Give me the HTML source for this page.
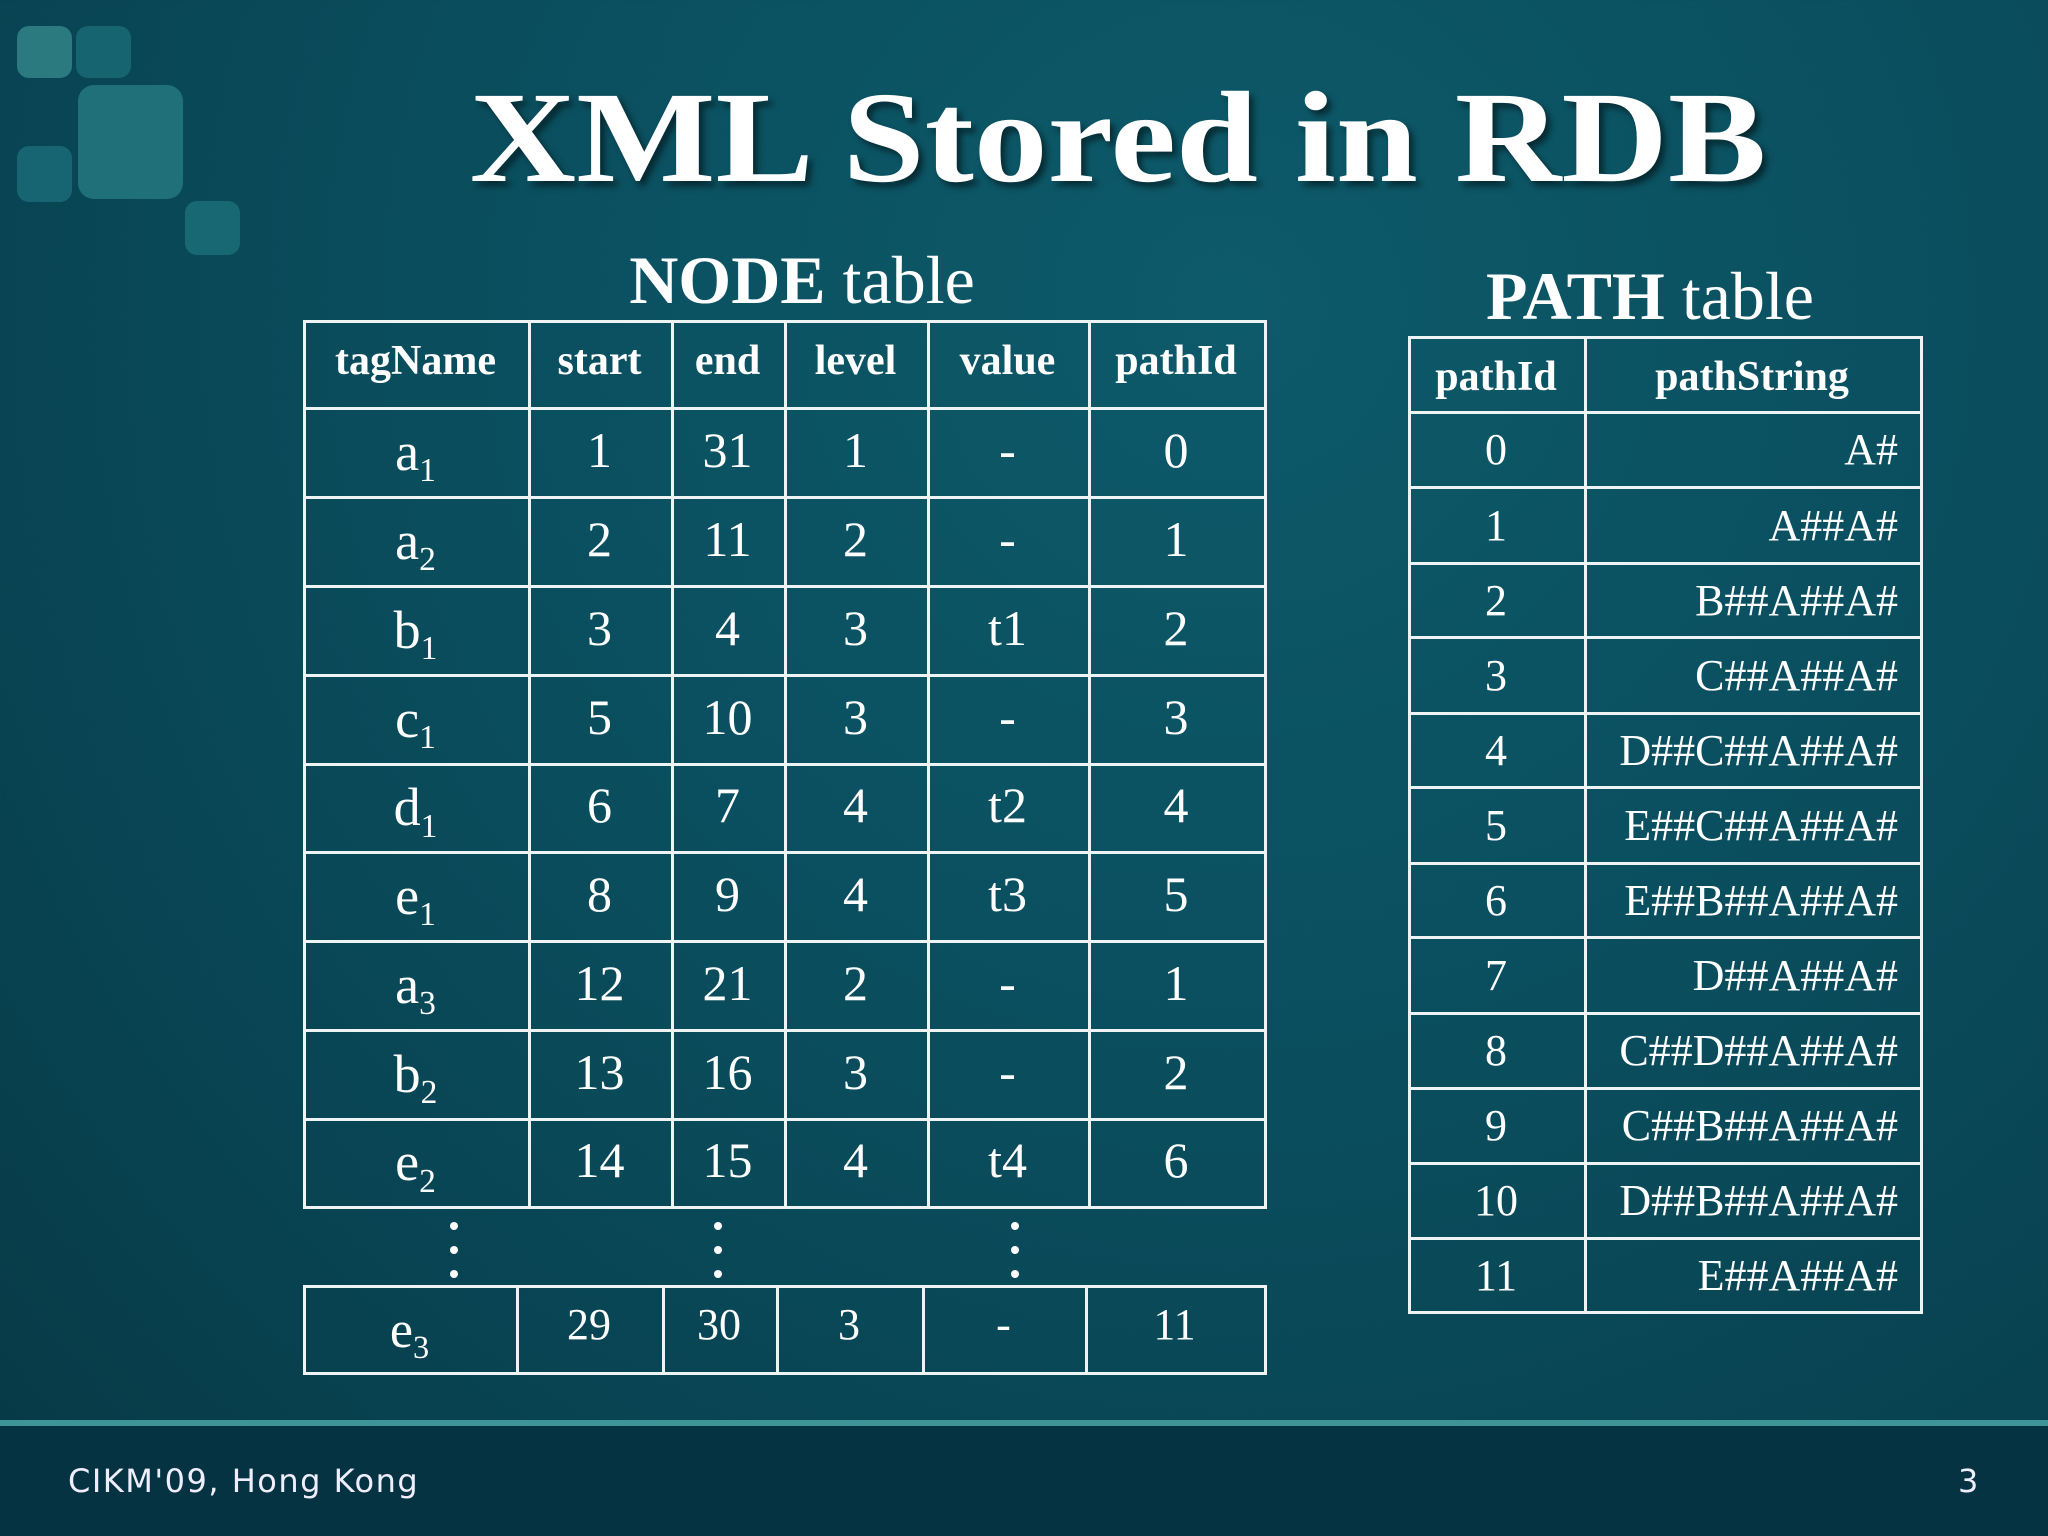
<!DOCTYPE html>
<html><head><meta charset="utf-8"><style>
html,body{margin:0;padding:0}
body{width:2048px;height:1536px;overflow:hidden;position:relative;font-family:"Liberation Serif",serif;color:#fff;
background:radial-gradient(ellipse at 60% 20%,#0d5a6a 0%,#0a4e5e 45%,#08414f 80%,#073844 100%);}
.sq{position:absolute;border-radius:12px}
.t{position:absolute;border:3px solid #eef4f4;box-sizing:border-box}
.c{position:absolute;display:flex;align-items:center;justify-content:center;box-sizing:border-box}
.sb{font-size:62%;position:relative;top:0.35em}
.dot{position:absolute;width:8px;height:8px;border-radius:50%;background:#fff}
</style></head><body>
<div>
<div class="sq" style="left:17px;top:26px;width:55px;height:52px;background:#2a7a80"></div>
<div class="sq" style="left:76px;top:26px;width:55px;height:52px;background:#166470"></div>
<div class="sq" style="left:78px;top:85px;width:105px;height:114px;background:#1f7079;border-radius:16px"></div>
<div class="sq" style="left:17px;top:146px;width:55px;height:56px;background:#176572"></div>
<div class="sq" style="left:185px;top:201px;width:55px;height:54px;background:#186874"></div>
</div>
<div style="position:absolute;left:0;width:2236px;top:63px;text-align:center;font-weight:bold;font-size:130px;line-height:150px;text-shadow:4px 5px 6px rgba(0,0,0,.5);transform:scaleX(1.135);transform-origin:1118px 0">XML Stored in RDB</div>
<div style="position:absolute;left:502px;width:600px;top:240px;text-align:center;font-size:68px;line-height:80px"><b>NODE</b> table</div>
<div style="position:absolute;left:1350px;width:600px;top:256px;text-align:center;font-size:68px;line-height:80px"><b>PATH</b> table</div>
<div id="root"></div>
<div style="position:absolute;left:0;top:1420px;width:2048px;height:6px;background:#3e9597"></div>
<div style="position:absolute;left:0;top:1426px;width:2048px;height:110px;background:#063341"></div>
<div style="position:absolute;left:68px;top:1462px;font-family:'DejaVu Sans',sans-serif;font-size:32px;letter-spacing:1.5px;color:#eef">CIKM'09, Hong Kong</div>
<div style="position:absolute;left:1958px;top:1462px;font-family:'DejaVu Sans',sans-serif;font-size:32px;color:#eef">3</div>
<script>
const nodeHeaders=["tagName","start","end","level","value","pathId"];
const nodeTags=[["a","1"],["a","2"],["b","1"],["c","1"],["d","1"],["e","1"],["a","3"],["b","2"],["e","2"]];
const nodeStart=["1","2","3","5","6","8","12","13","14"];
const nodeEnd=["31","11","4","10","7","9","21","16","15"];
const nodeLevel=["1","2","3","3","4","4","2","3","4"];
const nodeValue=["-","-","t1","-","t2","t3","-","-","t4"];
const nodePathId=["0","1","2","3","4","5","1","2","6"];
const lastRow=[["e","3"],"29","30","3","-","11"];
const pathIds=["0","1","2","3","4","5","6","7","8","9","10","11"];
const pathStrings=["A#","A##A#","B##A##A#","C##A##A#","D##C##A##A#","E##C##A##A#","E##B##A##A#","D##A##A#","C##D##A##A#","C##B##A##A#","D##B##A##A#","E##A##A#"];

const root=document.getElementById('root');
function cell(x,y,w,h,html,name,extra){
  const d=document.createElement('div');
  d.className='c';
  d.style.cssText=`left:${x}px;top:${y}px;width:${w}px;height:${h}px;`+(extra||'');
  d.innerHTML='<span>'+html+'</span>';
  
  
  root.appendChild(d);return d;
}
function box(x,y,w,h,name){
  const d=document.createElement('div');
  d.className='t';
  d.style.cssText=`left:${x}px;top:${y}px;width:${w}px;height:${h}px;`;
  
  
  root.appendChild(d);
}
const nx=[303,528,671,784,927,1088,1264];
const ny=[320,407,496,585,674,763,851,940,1029,1118,1206];
for(let r=0;r<ny.length-1;r++)for(let c=0;c<6;c++){
  box(nx[c],ny[r],nx[c+1]-nx[c]+3,ny[r+1]-ny[r]+3,'node-table-cell-border');
}
nodeHeaders.forEach((h,c)=>cell(nx[c],ny[0],nx[c+1]-nx[c],ny[1]-ny[0]-6,h,'node-header-'+h.toLowerCase(),'font-weight:bold;font-size:42px;'));
const cols=[nodeStart,nodeEnd,nodeLevel,nodeValue,nodePathId];
for(let r=0;r<nodeTags.length;r++){
  const y=ny[r+1],h=ny[r+2]-ny[r+1];
  cell(nx[0],y,nx[1]-nx[0],h,nodeTags[r][0]+'<span class="sb">'+nodeTags[r][1]+'</span>','node-tag-cell','font-size:54px;');
  cols.forEach((arr,c)=>cell(nx[c+1],y-2,nx[c+2]-nx[c+1],h,arr[r],'node-value-cell','font-size:50px;'));
}
[454,718,1015].forEach(x=>[1226,1250,1274].forEach(y=>{
  const d=document.createElement('div');d.className='dot';d.style.left=(x-4)+'px';d.style.top=(y-4)+'px';
  
  
  root.appendChild(d);
}));
const lx=[303,516,662,776,922,1085,1264];
for(let c=0;c<6;c++) box(lx[c],1285,lx[c+1]-lx[c]+3,90,'node-last-row-border');
cell(lx[0],1285,lx[1]-lx[0],90,lastRow[0][0]+'<span class="sb">'+lastRow[0][1]+'</span>','node-tag-cell','font-size:52px;');
for(let c=1;c<6;c++) cell(lx[c],1289,lx[c+1]-lx[c],70,lastRow[c],'node-value-cell','font-size:44px;');
const px=[1408,1584,1920];
const py=[336,411,486,562,636,712,786,862,936,1012,1087,1162,1237,1311];
for(let r=0;r<py.length-1;r++)for(let c=0;c<2;c++) box(px[c],py[r],px[c+1]-px[c]+3,py[r+1]-py[r]+3,'path-table-cell-border');
cell(px[0],py[0]+3,px[1]-px[0],py[1]-py[0],'pathId','path-header-pathid','font-weight:bold;font-size:42px;');
cell(px[1],py[0]+3,px[2]-px[1],py[1]-py[0],'pathString','path-header-pathstring','font-weight:bold;font-size:42px;');
for(let r=0;r<pathIds.length;r++){
  const y=py[r+1],h=py[r+2]-py[r+1];
  cell(px[0],y+1,px[1]-px[0],h,pathIds[r],'path-id-cell','font-size:44px;');
  cell(px[1],y+1,px[2]-px[1],h,pathStrings[r],'path-string-cell','font-size:44px;justify-content:flex-end;padding-right:22px;');
}
</script>
</body></html>
